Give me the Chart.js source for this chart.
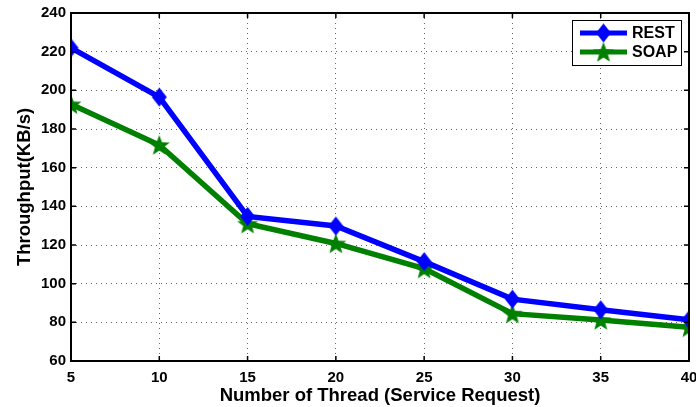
<!DOCTYPE html>
<html>
<head>
<meta charset="utf-8">
<script src="https://cdn.jsdelivr.net/npm/chart.js@4.4.1/dist/chart.umd.min.js"></script>
<style>
  html, body { margin: 0; padding: 0; background: #fff; }
  #wrap { width: 696px; height: 407px; }
</style>
</head>
<body>
<div id="wrap"><canvas id="chart" width="696" height="407"></canvas></div>
<script>
// data
const threads = [5, 10, 15, 20, 25, 30, 35, 40]
const restValues = [222, 196.5, 134.8, 129.8, 111.4, 92, 86.5, 81.3]
const soapValues = [192.8, 171.7, 131, 120.8, 107.8, 84.5, 81.2, 77.4]
const seriesNames = ["REST", "SOAP"]
const yMin = 60, yMax = 240, yStep = 20
const xMin = 5, xMax = 40, xStep = 5

const blue = "#0000ff"
const green = "#008000"
const fontFamily = "'Liberation Sans', Arial, sans-serif"

//filled 5 point star, like the matlab pentagram marker
function makeStar(color, r) {
  var c = document.createElement("canvas")
  var size = Math.ceil(r * 2 + 2)
  c.width = size
  c.height = size
  var g = c.getContext("2d")
  var cx = size / 2, cy = size / 2 + r * 0.08
  g.beginPath()
  for (var i = 0; i < 10; i++) {
    var rad = i % 2 == 0 ? r : r * 0.42
    var a = -Math.PI / 2 + i * Math.PI / 5
    var px = cx + rad * Math.cos(a), py = cy + rad * Math.sin(a)
    if (i == 0) g.moveTo(px, py)
    else g.lineTo(px, py)
  }
  g.closePath()
  g.fillStyle = color
  g.fill()
  return c
}
//diamond a bit taller than wide
function makeDiamond(color, hw, hh) {
  var c = document.createElement("canvas")
  c.width = Math.ceil(hw * 2 + 2)
  c.height = Math.ceil(hh * 2 + 2)
  var g = c.getContext("2d")
  var cx = c.width / 2, cy = c.height / 2
  g.beginPath()
  g.moveTo(cx, cy - hh); g.lineTo(cx + hw, cy); g.lineTo(cx, cy + hh); g.lineTo(cx - hw, cy)
  g.closePath()
  g.fillStyle = color
  g.fill()
  return c
}
const starImg = makeStar(green, 11)
const diamondImg = makeDiamond(blue, 7.5, 9.5)

function toPoints(vals) {
  return threads.map((t, i) => ({ x: t, y: vals[i] }))
}

//frame, inward ticks and legend box
const framePlugin = {
  id: "frame",
  afterDraw(chart) {
    var ctx = chart.ctx
    var a = chart.chartArea
    var xs = chart.scales.x, ys = chart.scales.y
    ctx.save()
    ctx.strokeStyle = "#000"
    ctx.lineWidth = 2
    ctx.strokeRect(a.left, a.top, a.right - a.left, a.bottom - a.top)
    ctx.lineWidth = 1.5
    ctx.beginPath()
    for (var v = xMin; v <= xMax; v += xStep) {
      var px = xs.getPixelForValue(v)
      ctx.moveTo(px, a.bottom); ctx.lineTo(px, a.bottom - 5)
      ctx.moveTo(px, a.top); ctx.lineTo(px, a.top + 5)
    }
    for (var w = yMin; w <= yMax; w += yStep) {
      var py = ys.getPixelForValue(w)
      ctx.moveTo(a.left, py); ctx.lineTo(a.left + 5, py)
      ctx.moveTo(a.right, py); ctx.lineTo(a.right - 5, py)
    }
    ctx.stroke()

    //legend
    var bx = 572, by = 20, bw = 109, bh = 45
    ctx.fillStyle = "#fff"
    ctx.fillRect(bx, by, bw, bh)
    ctx.strokeStyle = "#000"
    ctx.lineWidth = 1
    ctx.strokeRect(bx + 0.5, by + 0.5, bw, bh)
    ctx.font = "bold 16px " + fontFamily
    ctx.textBaseline = "middle"
    ctx.textAlign = "left"
    chart.data.datasets.forEach((ds, i) => {
      var ly = by + 13 + i * 19
      ctx.strokeStyle = ds.borderColor
      ctx.lineWidth = 5
      ctx.beginPath()
      ctx.moveTo(580, ly); ctx.lineTo(627, ly)
      ctx.stroke()
      var img = ds.pointStyle
      ctx.drawImage(img, 603.5 - img.width / 2, ly - img.height / 2)
      ctx.fillStyle = "#000"
      ctx.fillText(ds.label, 632, ly + 1)
    })
    ctx.restore()
  }
}

const gridOpts = {
  drawTicks: false,
  color: "rgba(0,0,0,0.6)",
  lineWidth: 1
}

new Chart(document.getElementById("chart"), {
  type: "line",
  data: {
    datasets: [{
      label: seriesNames[0],
      data: toPoints(restValues),
      borderColor: blue,
      backgroundColor: blue,
      borderWidth: 5.5,
      pointStyle: diamondImg,
      pointRadius: 8,
      tension: 0
    }, {
      label: seriesNames[1],
      data: toPoints(soapValues),
      borderColor: green,
      backgroundColor: green,
      borderWidth: 5.5,
      pointStyle: starImg,
      pointRadius: 10,
      tension: 0
    }]
  },
  options: {
    responsive: false,
    animation: false,
    devicePixelRatio: 1,
    layout: { autoPadding: false, padding: { top: 13, right: 7, left: 0, bottom: 0 } },
    plugins: {
      legend: { display: false },
      tooltip: { enabled: false }
    },
    scales: {
      x: {
        type: "linear",
        min: xMin,
        max: xMax,
        border: { display: false, dash: [1, 4] },
        grid: gridOpts,
        ticks: {
          stepSize: xStep,
          padding: 8,
          color: "#000",
          maxRotation: 0,
          font: { family: fontFamily, size: 15, weight: "bold" }
        },
        title: {
          display: true,
          text: "Number of Thread (Service Request)",
          color: "#000",
          font: { family: fontFamily, size: 18.5, weight: "bold" },
          padding: { top: 0, bottom: 0 }
        },
        afterFit(scale) {
          scale.height = 46
          scale.paddingLeft = 0
          scale.paddingRight = 0
        }
      },
      y: {
        min: yMin,
        max: yMax,
        border: { display: false, dash: [1, 4] },
        grid: gridOpts,
        ticks: {
          stepSize: yStep,
          padding: 5,
          color: "#000",
          font: { family: fontFamily, size: 15, weight: "bold" }
        },
        title: {
          display: true,
          text: "Throughput(KB/s)",
          color: "#000",
          font: { family: fontFamily, size: 18.5, weight: "bold" },
          padding: { top: 14, bottom: 0 }
        },
        afterFit(scale) {
          scale.width = 71
          scale.paddingTop = 0
          scale.paddingBottom = 0
        }
      }
    }
  },
  plugins: [framePlugin]
})
</script>
</body>
</html>
